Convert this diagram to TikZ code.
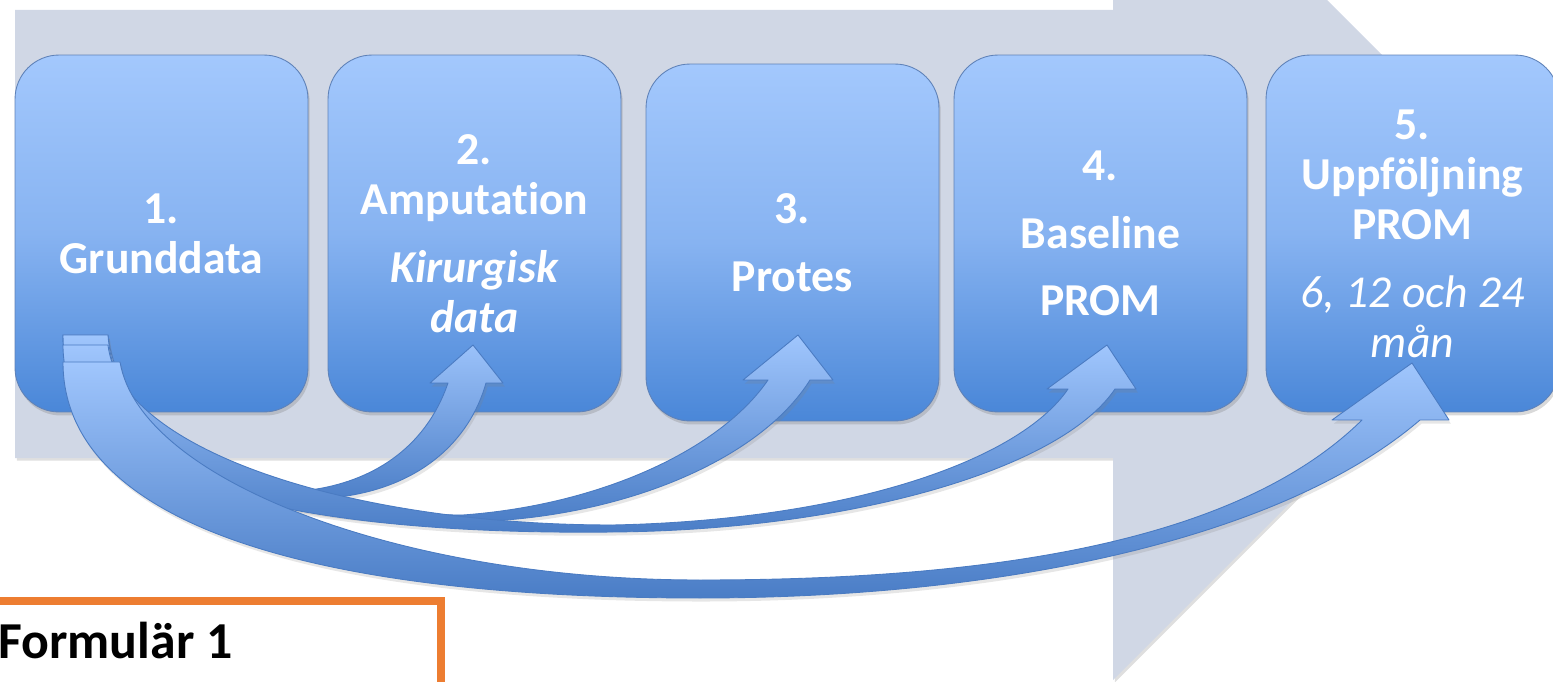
\documentclass[tikz,border=0pt]{standalone}
\usepackage{fontspec}
\setmainfont{Carlito}[Ligatures=NoCommon]
\usetikzlibrary{shadows}

\definecolor{bgarrow}{HTML}{D0D7E5}
\definecolor{boxtop}{HTML}{A3C8FD}
\definecolor{boxmid}{HTML}{87B3F1}
\definecolor{boxbot}{HTML}{4A87D8}
\definecolor{boxline}{HTML}{5F82B8}
\definecolor{arrtop}{HTML}{A0C6FD}
\definecolor{arrbot}{HTML}{4A7DC6}
\definecolor{arrline}{HTML}{4A7BC2}
\definecolor{formorange}{HTML}{ED7D31}

\tikzset{
  stepbox/.style={rounded corners=0.88cm, minimum width=5.86cm, minimum height=7.14cm,
    inner sep=0pt, draw=boxline, line width=0.5pt,
    top color=boxtop, bottom color=boxbot, middle color=boxmid,
    drop shadow={shadow xshift=1pt, shadow yshift=-2pt, opacity=0.3},
    text=white, align=center, font=\fontsize{26}{28.5}\selectfont\bfseries},
  flow arrow/.style={draw=arrline, line width=0.5pt, line join=round,
    top color=arrtop, bottom color=arrbot,
    drop shadow={shadow xshift=1pt, shadow yshift=-2pt, opacity=0.2}},
}

\begin{document}
\begin{tikzpicture}[x=0.02cm, y=-0.02cm]
  \useasboundingbox (0,0) rectangle (1553,682);
  \clip (0,0) rectangle (1553,682);

  % big background arrow
  \fill[bgarrow, drop shadow={shadow xshift=1pt, shadow yshift=-1.5pt, opacity=0.25}]
    (15,10) -- (1113,10) -- (1113,-214) -- (1560,233) -- (1113,680)
    -- (1113,458) -- (15,458) -- cycle;

  % the five steps
  \node[stepbox] (grund) at (161.5,233.5) {1.\\Grunddata};
  \node[stepbox] (amput) at (474.5,233.5) {2.\\Amputation\\[10pt]\textit{Kirurgisk}\\\textit{data}};
  \node[stepbox] (protes) at (792.5,242.5) {3.\\[10pt]Protes};
  \node[stepbox] (baseline) at (1100.5,233.5) {4.\\[10pt]Baseline\\[10pt]PROM};
  \node[stepbox] (uppf) at (1412.5,233.5)
    {5.\\Uppföljning\\PROM\\[10pt]\textit{\mdseries 6, 12 och 24}\\\textit{\mdseries mån}};

  % curved arrows from step 1
  \path[flow arrow] (63,335) .. controls (63,480) and (300,525) .. (463,522)
    .. controls (620,520) and (760,460) .. (810,380) -- (833,380) -- (798,335)
    -- (743,380) -- (768,380) .. controls (720,450) and (600,505) .. (463,515)
    .. controls (250,515) and (120,440) .. (108,335) -- cycle;
  \path[flow arrow] (63,335) .. controls (63,460) and (220,505) .. (330,498)
    .. controls (420,490) and (470,440) .. (486,383) -- (503,383) -- (473,345)
    -- (430,383) -- (448,383) .. controls (425,450) and (370,482) .. (310,490)
    .. controls (200,480) and (115,430) .. (108,335) -- cycle;
  \path[flow arrow] (63,345) .. controls (63,500) and (350,535) .. (613,532)
    .. controls (850,530) and (1060,470) .. (1115,389) -- (1136,389) -- (1107,345)
    -- (1047,389) -- (1068,389) .. controls (1020,460) and (850,520) .. (613,525)
    .. controls (350,525) and (120,450) .. (108,345) -- cycle;
  \path[flow arrow] (63,362) .. controls (63,520) and (300,598) .. (700,598)
    .. controls (1000,598) and (1280,540) .. (1420,420) -- (1449,420) -- (1412,363)
    -- (1332,420) -- (1362,420) .. controls (1240,540) and (1000,580) .. (700,580)
    .. controls (400,580) and (140,480) .. (120,362) -- cycle;

  % form label
  \draw[formorange, line width=4pt, fill=white] (-20,601) rectangle (441,720);
  \node[anchor=base west, inner sep=0pt, font=\fontsize{29.5}{33}\selectfont\bfseries]
    (form) at (-2,658) {Formulär 1};
\end{tikzpicture}
\end{document}
